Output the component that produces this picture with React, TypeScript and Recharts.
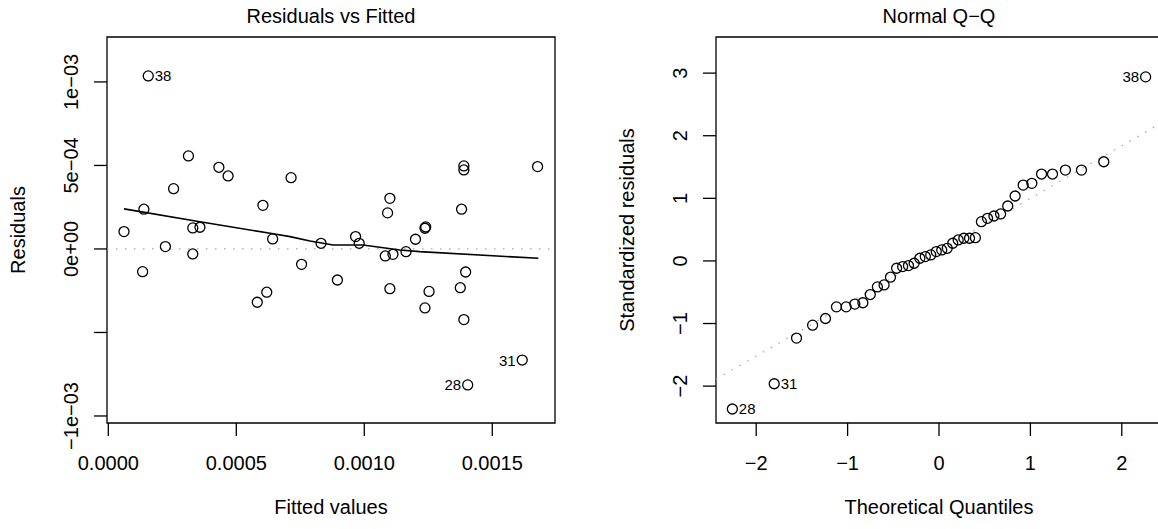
import React from "react";
import {
  ScatterChart,
  Scatter,
  XAxis,
  YAxis,
  ReferenceLine,
  ReferenceArea,
  Label,
} from "recharts";

// Residuals vs Fitted
const fittedValues = [
  0.0000613, 0.000134, 0.000139, 0.000156, 0.000223, 0.000255, 0.000313, 0.00033,
  0.000358, 0.00033, 0.000432, 0.000468, 0.000582, 0.000604, 0.000619, 0.000642,
  0.000714, 0.000755, 0.000831, 0.000895, 0.000966, 0.00098, 0.001082, 0.001091,
  0.0011, 0.0011, 0.001112, 0.001163, 0.0012, 0.001237, 0.00124, 0.001253,
  0.001237, 0.001375, 0.00138, 0.001389, 0.001389, 0.001396, 0.001389, 0.001404,
  0.001617, 0.001677,
];
const residuals = [
  0.000104, -0.000136, 0.000238, 0.001036, 0.000014, 0.000361, 0.000557, 0.000126,
  0.00013, -0.00003, 0.000489, 0.000437, -0.000319, 0.000261, -0.000259, 0.00006,
  0.000427, -0.000092, 0.000034, -0.000186, 0.000074, 0.000034, -0.000042, 0.000216,
  0.000303, -0.000238, -0.000032, -0.000016, 0.000058, 0.000124, 0.000132, -0.000254,
  -0.000353, -0.000232, 0.000238, 0.000497, 0.000473, -0.000138, -0.000423, -0.000814,
  -0.000665, 0.000493,
];
const residIds = [
  "", "", "", "38", "", "", "", "", "", "", "", "", "", "", "", "", "", "", "", "", "",
  "", "", "", "", "", "", "", "", "", "", "", "", "", "", "", "", "", "", "28", "31", "",
];

// lowess smooth
const smoothX = [0.0000613, 0.000358, 0.000632, 0.00071, 0.000788, 0.000878, 0.000995, 0.001139, 0.001217, 0.00168];
const smoothY = [0.00024, 0.000163, 0.000094, 0.000074, 0.000048, 0.000024, 0.000024, -0.000006, -0.000016, -0.000056];

// Normal Q-Q
const theoQuantiles = [
  -2.261, -1.803, -1.559, -1.383, -1.242, -1.122, -1.016, -0.921, -0.833, -0.752, -0.674,
  -0.601, -0.531, -0.464, -0.398, -0.334, -0.272, -0.21, -0.15, -0.09, -0.03, 0.03, 0.09,
  0.15, 0.21, 0.272, 0.334, 0.398, 0.464, 0.531, 0.601, 0.674, 0.752, 0.833, 0.921, 1.016,
  1.122, 1.242, 1.383, 1.559, 1.803, 2.261,
];
const stdResiduals = [
  -2.365, -1.962, -1.233, -1.026, -0.92, -0.734, -0.734, -0.69, -0.668, -0.537, -0.415,
  -0.383, -0.26, -0.117, -0.09, -0.074, -0.037, 0.043, 0.069, 0.096, 0.149, 0.175, 0.202,
  0.282, 0.335, 0.362, 0.362, 0.372, 0.627, 0.68, 0.718, 0.75, 0.877, 1.037, 1.212, 1.239,
  1.388, 1.388, 1.451, 1.451, 1.584, 2.94,
];
const qqIds = [
  "28", "31", "", "", "", "", "", "", "", "", "", "", "", "", "", "", "", "", "", "", "",
  "", "", "", "", "", "", "", "", "", "", "", "", "", "", "", "", "", "", "", "", "38",
];
const qqLineX = [-2.44, 2.44];
const qqLineY = [-1.89, 2.21];

// axes
const residDomainX = [-0.0000051, 0.001745];
const residDomainY = [-0.001042, 0.001269];
const residTicksX = [0, 0.0005, 0.001, 0.0015];
const residTickLabelsX = ["0.0000", "0.0005", "0.0010", "0.0015"];
const residTicksY = [-0.001, -0.0005, 0, 0.0005, 0.001];
const residTickLabelsY = ["−1e−03", "", "0e+00", "5e−04", "1e−03"];

const qqDomainX = [-2.44, 2.44];
const qqDomainY = [-2.589, 3.577];
const qqTicksX = [-2, -1, 0, 1, 2];
const qqTickLabelsX = ["−2", "−1", "0", "1", "2"];
const qqTicksY = [-2, -1, 0, 1, 2, 3];
const qqTickLabelsY = ["−2", "−1", "0", "1", "2", "3"];

const FONT = '"Liberation Sans", Arial, Helvetica, sans-serif';

const residData = fittedValues.map((x, i) => ({ x, y: residuals[i], id: residIds[i] }));
const smoothData = smoothX.map((x, i) => ({ x, y: smoothY[i] }));
const qqData = theoQuantiles.map((x, i) => ({ x, y: stdResiduals[i], id: qqIds[i] }));

const makeXTick = (ticks: number[], labels: string[]) => (props: any) => {
  const { x, y, payload } = props;
  const i = ticks.indexOf(payload.value);
  return (
    <text x={x} y={y + 34} textAnchor="middle" fontSize={20} fill="#000" fontFamily={FONT}>
      {labels[i]}
    </text>
  );
};

const makeYTick = (ticks: number[], labels: string[]) => (props: any) => {
  const { x, y, payload } = props;
  const i = ticks.indexOf(payload.value);
  return (
    <text
      transform={`translate(${x - 16},${y}) rotate(-90)`}
      textAnchor="middle"
      fontSize={20}
      fill="#000"
      fontFamily={FONT}
    >
      {labels[i]}
    </text>
  );
};

const circleShape = (labelLeft: (x: number) => boolean) => (props: any) => {
  const { cx, cy, payload } = props;
  const left = labelLeft(payload.x);
  return (
    <g>
      <circle cx={cx} cy={cy} r={5} fill="none" stroke="#000" strokeWidth={1.3} />
      {payload.id ? (
        <text
          x={left ? cx - 6.5 : cx + 6.5}
          y={cy + 5.5}
          textAnchor={left ? "end" : "start"}
          fontSize={15}
          fill="#000"
          fontFamily={FONT}
        >
          {payload.id}
        </text>
      ) : null}
    </g>
  );
};

const xTitle = (text: string) => (p: any) => {
  const vb = p.viewBox;
  return (
    <text x={vb.x + vb.width / 2} y={vb.y + 91} textAnchor="middle" fontSize={20} fill="#000" fontFamily={FONT}>
      {text}
    </text>
  );
};

const yTitle = (text: string) => (p: any) => {
  const vb = p.viewBox;
  return (
    <text
      transform={`translate(${vb.x + vb.width - 82},${vb.y + vb.height / 2}) rotate(-90)`}
      textAnchor="middle"
      fontSize={20}
      fill="#000"
      fontFamily={FONT}
    >
      {text}
    </text>
  );
};

const Title = ({ text, center }: { text: string; center: number }) => (
  <div
    style={{
      position: "absolute",
      top: 6,
      left: center - 200,
      width: 400,
      textAlign: "center",
      fontSize: 20,
      lineHeight: "20px",
      fontFamily: FONT,
      color: "#000",
    }}
  >
    {text}
  </div>
);

export default function App() {
  const meanFitted = (residDomainX[0] + residDomainX[1]) / 2;
  return (
    <div
      style={{
        position: "absolute",
        left: 0,
        top: 0,
        width: 1158,
        height: 529,
        overflow: "hidden",
        background: "#fff",
        fontFamily: FONT,
      }}
    >
      <Title text="Residuals vs Fitted" center={331} />
      <Title text="Normal Q−Q" center={939} />

      {/* Residuals vs Fitted */}
      <div style={{ position: "absolute", left: 0, top: 0 }}>
        <ScatterChart width={580} height={529} margin={{ top: 37, right: 25, bottom: 0, left: 0 }}>
          <XAxis
            type="number"
            dataKey="x"
            domain={residDomainX}
            allowDataOverflow
            ticks={residTicksX}
            interval={0}
            height={106}
            axisLine={false}
            tickSize={13}
            tickMargin={0}
            tickLine={{ stroke: "#000", strokeWidth: 1.3 }}
            tick={makeXTick(residTicksX, residTickLabelsX)}
          >
            <Label content={xTitle("Fitted values")} />
          </XAxis>
          <YAxis
            type="number"
            dataKey="y"
            domain={residDomainY}
            allowDataOverflow
            ticks={residTicksY}
            interval={0}
            width={107}
            axisLine={false}
            tickSize={13}
            tickMargin={0}
            tickLine={{ stroke: "#000", strokeWidth: 1.3 }}
            tick={makeYTick(residTicksY, residTickLabelsY)}
          >
            <Label content={yTitle("Residuals")} />
          </YAxis>
          <ReferenceLine y={0} stroke="#a8a8a8" strokeWidth={1.3} strokeDasharray="1.5 7.5" />
          <Scatter
            data={residData}
            shape={circleShape((x) => x > meanFitted)}
            isAnimationActive={false}
          />
          <Scatter
            data={smoothData}
            line={{ stroke: "#000", strokeWidth: 1.6 }}
            shape={() => <g />}
            isAnimationActive={false}
          />
          <ReferenceArea
            x1={residDomainX[0]}
            x2={residDomainX[1]}
            y1={residDomainY[0]}
            y2={residDomainY[1]}
            fill="none"
            fillOpacity={0}
            stroke="#000"
            strokeWidth={1.3}
            ifOverflow="visible"
          />
        </ScatterChart>
      </div>

      {/* Normal Q-Q */}
      <div style={{ position: "absolute", left: 580, top: 0 }}>
        <ScatterChart width={600} height={529} margin={{ top: 37, right: 18, bottom: 0, left: 0 }}>
          <XAxis
            type="number"
            dataKey="x"
            domain={qqDomainX}
            allowDataOverflow
            ticks={qqTicksX}
            interval={0}
            height={106}
            axisLine={false}
            tickSize={13}
            tickMargin={0}
            tickLine={{ stroke: "#000", strokeWidth: 1.3 }}
            tick={makeXTick(qqTicksX, qqTickLabelsX)}
          >
            <Label content={xTitle("Theoretical Quantiles")} />
          </XAxis>
          <YAxis
            type="number"
            dataKey="y"
            domain={qqDomainY}
            allowDataOverflow
            ticks={qqTicksY}
            interval={0}
            width={136}
            axisLine={false}
            tickSize={13}
            tickMargin={0}
            tickLine={{ stroke: "#000", strokeWidth: 1.3 }}
            tick={makeYTick(qqTicksY, qqTickLabelsY)}
          >
            <Label content={yTitle("Standardized residuals")} />
          </YAxis>
          <ReferenceLine
            segment={[
              { x: qqLineX[0], y: qqLineY[0] },
              { x: qqLineX[1], y: qqLineY[1] },
            ]}
            stroke="#a8a8a8"
            strokeWidth={1.3}
            strokeDasharray="1.5 7.5"
            ifOverflow="visible"
          />
          <Scatter data={qqData} shape={circleShape((x) => x > 0)} isAnimationActive={false} />
          <ReferenceArea
            x1={qqDomainX[0]}
            x2={qqDomainX[1]}
            y1={qqDomainY[0]}
            y2={qqDomainY[1]}
            fill="none"
            fillOpacity={0}
            stroke="#000"
            strokeWidth={1.3}
            ifOverflow="visible"
          />
        </ScatterChart>
      </div>
    </div>
  );
}
